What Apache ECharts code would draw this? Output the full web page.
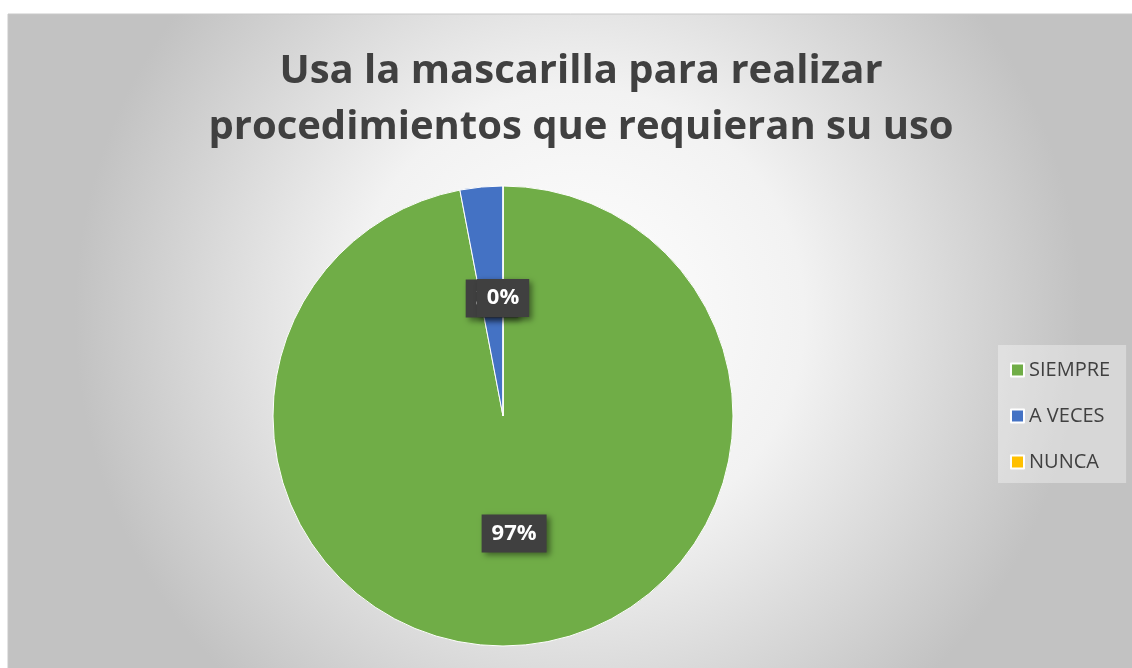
<!DOCTYPE html>
<html><head><meta charset="utf-8">
<script src="https://cdn.jsdelivr.net/npm/echarts@6/dist/echarts.min.js"></script>
<style>html,body{margin:0;padding:0;background:#fff}#c{width:1132px;height:668px}</style>
</head><body><div id="c"></div>
<script>
const titleLines = ['Usa la mascarilla para realizar', 'procedimientos que requieran su uso'];
const categories = ['SIEMPRE', 'A VECES', 'NUNCA'];
const values = [97, 3, 0];
const colors = ['#70AD47', '#4472C4', '#FFC000'];

const chart = echarts.init(document.getElementById('c'));
chart.setOption({
  animation: false,
  graphic: [{
    type: 'rect', z: -10, silent: true,
    shape: {x: 8, y: 14, width: 1140, height: 670},
    style: {
      fill: new echarts.graphic.RadialGradient(0.5, 0.45, 0.75, [
        {offset: 0, color: '#ffffff'}, {offset: 0.45, color: '#f2f2f2'}, {offset: 1, color: '#c2c2c2'}
      ]),
      stroke: '#c8c8c8', lineWidth: 1
    }
  }],
  title: {
    text: titleLines.join('\n'),
    left: 576, top: 39, textAlign: 'center',
    textStyle: {fontFamily: 'Open Sans', fontWeight: 'bold', fontSize: 40, color: '#404040', lineHeight: 56}
  },
  legend: {
    orient: 'vertical', left: 998, top: 345,
    data: categories,
    icon: 'rect', itemWidth: 13, itemHeight: 13, itemGap: 26,
    padding: [15, 16, 11, 12],
    backgroundColor: 'rgba(255,255,255,0.35)',
    textStyle: {fontFamily: 'Open Sans', fontSize: 20, color: '#404040'}
  },
  series: [{
    type: 'pie',
    center: [503, 416], radius: 230,
    startAngle: 90, clockwise: true,
    percentPrecision: 0,
    avoidLabelOverlap: false,
    minShowLabelAngle: -1,
    labelLayout: {hideOverlap: false},
    itemStyle: {borderColor: '#ffffff', borderWidth: 1},
    label: {
      show: true, position: 'inside',
      formatter: '{d}%',
      color: '#ffffff', fontFamily: 'Open Sans', fontWeight: 'bold', fontSize: 22, lineHeight: 26,
      backgroundColor: '#404040', padding: [7, 10, 5, 10],
      shadowColor: 'rgba(0,0,0,0.45)', shadowBlur: 6, shadowOffsetX: 3, shadowOffsetY: 3
    },
    labelLine: {show: false},
    emphasis: {disabled: true},
    data: categories.map((c, i) => ({name: c, value: values[i], itemStyle: {color: colors[i]}}))
  }]
});
</script></body></html>
